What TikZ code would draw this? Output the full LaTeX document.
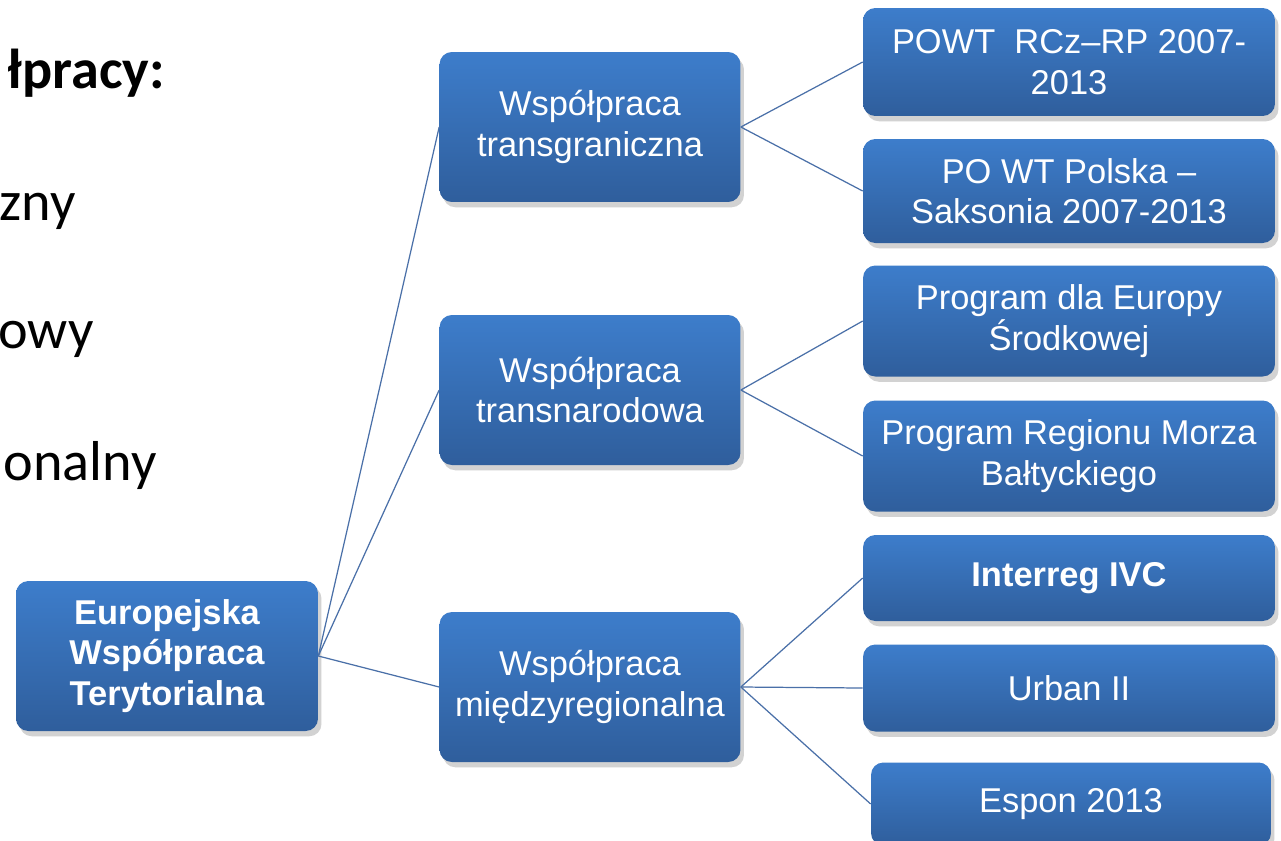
\documentclass[tikz,border=0pt]{standalone}
\usepackage{fontspec}
\setmainfont{Liberation Sans}
\newfontfamily\calibri{Carlito}
\usetikzlibrary{shadows}
\definecolor{boxtop}{HTML}{3D7DCB}
\definecolor{boxbot}{HTML}{2F5E9C}
\definecolor{linkcol}{HTML}{4A70A8}
\tikzset{
  ewtbox/.style={rounded corners=7pt, top color=boxtop, bottom color=boxbot,
    draw=none, text=white, align=center, inner sep=0pt,
    font=\fontsize{19.6}{23}\selectfont,
    drop shadow={shadow xshift=2pt, shadow yshift=-3pt, opacity=0.25, fill=black!70}},
  link/.style={draw=linkcol, line width=0.7pt},
  side/.style={anchor=base east, inner sep=0pt, font=\calibri\fontsize{32}{40}\selectfont}
}
\begin{document}
\begin{tikzpicture}[x=0.02cm, y=-0.02cm]
\useasboundingbox (0,0) rectangle (1281,840);
\clip (0,0) rectangle (1281,840);
\fill[white] (0,0) rectangle (1281,840);

\node[side, font=\calibri\bfseries\fontsize{32}{40}\selectfont] (t0) at (165,88) {łpracy:};
\node[side] (t1) at (76,220) {zny};
\node[side] (t2) at (94,348) {owy};
\node[side] (t3) at (157,480) {onalny};

\node[ewtbox, minimum width=6.04cm, minimum height=3.0cm, font=\bfseries\fontsize{19.6}{23}\selectfont] (root) at (167,656) {Europejska\\Współpraca\\Terytorialna};

\node[ewtbox, minimum width=6.02cm, minimum height=3.0cm] (tg) at (590,127) {Współpraca\\transgraniczna};
\node[ewtbox, minimum width=6.02cm, minimum height=3.0cm] (tn) at (590,390) {Współpraca\\transnarodowa};
\node[ewtbox, minimum width=6.02cm, minimum height=3.0cm] (mr) at (590,687) {Współpraca\\międzyregionalna};

\node[ewtbox, minimum width=8.24cm, minimum height=2.16cm] (powt) at (1069,62) {POWT\ \ RCz–RP 2007-\\2013};
\node[ewtbox, minimum width=8.24cm, minimum height=2.08cm] (saks) at (1069,191) {PO WT Polska –\\Saksonia 2007-2013};
\node[ewtbox, minimum width=8.24cm, minimum height=2.22cm] (europa) at (1069,321) {Program dla Europy\\Środkowej};
\node[ewtbox, minimum width=8.24cm, minimum height=2.22cm] (baltyk) at (1069,456) {Program Regionu Morza\\Bałtyckiego};
\node[ewtbox, minimum width=8.24cm, minimum height=1.72cm, font=\bfseries\fontsize{19.6}{23}\selectfont] (ivc) at (1069,578) {Interreg IVC};
\node[ewtbox, minimum width=8.24cm, minimum height=1.74cm] (urban) at (1069,688) {Urban II};
\node[ewtbox, minimum width=8.0cm, minimum height=1.66cm] (espon) at (1071,804) {Espon 2013};

\draw[link] (root.east) -- (tg.west);
\draw[link] (root.east) -- (tn.west);
\draw[link] (root.east) -- (mr.west);
\draw[link] (tg.east) -- (powt.west);
\draw[link] (tg.east) -- (saks.west);
\draw[link] (tn.east) -- (europa.west);
\draw[link] (tn.east) -- (baltyk.west);
\draw[link] (mr.east) -- (ivc.west);
\draw[link] (mr.east) -- (urban.west);
\draw[link] (mr.east) -- (espon.west);
\end{tikzpicture}
\end{document}
